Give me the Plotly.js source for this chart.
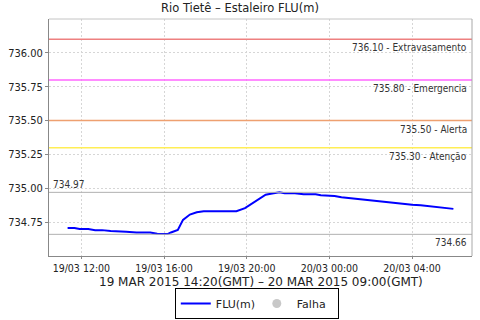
<!DOCTYPE html>
<html>
<head>
<meta charset="utf-8">
<script src="https://cdn.plot.ly/plotly-3.0.1.min.js"></script>
<style>html,body{margin:0;padding:0;background:#fff;}#chart{width:480px;height:320px;}</style>
</head>
<body>
<div id="chart"></div>
<script>
// Time of each reading (local) and level FLU(m)
var times = [
  '2015-03-19 11:20','2015-03-19 11:40','2015-03-19 11:55','2015-03-19 12:20','2015-03-19 12:40',
  '2015-03-19 13:00','2015-03-19 13:25','2015-03-19 13:45','2015-03-19 14:10','2015-03-19 14:40',
  '2015-03-19 15:00','2015-03-19 15:20','2015-03-19 15:40','2015-03-19 16:00','2015-03-19 16:10',
  '2015-03-19 16:20','2015-03-19 16:40','2015-03-19 16:55','2015-03-19 17:15','2015-03-19 17:35',
  '2015-03-19 17:55','2015-03-19 18:30','2015-03-19 19:00','2015-03-19 19:30','2015-03-19 19:55',
  '2015-03-19 20:20','2015-03-19 20:40','2015-03-19 20:55','2015-03-19 21:10','2015-03-19 21:35',
  '2015-03-19 21:50','2015-03-19 22:20','2015-03-19 22:45','2015-03-19 23:20','2015-03-19 23:35',
  '2015-03-20 00:05','2015-03-20 00:15','2015-03-20 00:35','2015-03-20 01:10','2015-03-20 01:40',
  '2015-03-20 02:10','2015-03-20 02:40','2015-03-20 03:00','2015-03-20 03:30','2015-03-20 04:00',
  '2015-03-20 04:25','2015-03-20 04:55','2015-03-20 05:20','2015-03-20 06:00'
];
var levels = [
  734.706,734.706,734.699,734.699,734.691,
  734.691,734.684,734.684,734.679,734.674,
  734.674,734.674,734.664,734.660,734.662,
  734.674,734.693,734.767,734.806,734.823,
  734.831,734.831,734.831,734.831,734.853,
  734.894,734.931,734.953,734.960,734.970,
  734.963,734.963,734.956,734.956,734.948,
  734.948,734.943,734.934,734.924,734.916,
  734.909,734.899,734.894,734.887,734.879,
  734.875,734.868,734.860,734.848
];
var thresholdValues = [736.10, 735.80, 735.50, 735.30];
var thresholdNames = ['Extravasamento', 'Emergencia', 'Alerta', 'Atenção'];
var thresholdColors = ['#ee8080', '#ff66ff', '#eea070', '#ffee55'];
var xRange = ['2015-03-19 10:26', '2015-03-20 06:54'];
var yRange = [734.5, 736.25];
var xTitle = '19 MAR 2015 14:20(GMT) – 20 MAR 2015 09:00(GMT)';

var maxV = Math.max.apply(null, levels);
var minV = Math.min.apply(null, levels);

var shapes = [];
var annotations = [];
var lblFont = {family: 'DejaVu Sans Condensed, DejaVu Sans, sans-serif', size: 10, color: '#333'};
thresholdValues.forEach(function (v, i) {
  shapes.push({type: 'line', xref: 'paper', yref: 'y', x0: 0, x1: 1, y0: v, y1: v,
    line: {color: thresholdColors[i], width: 1.5}});
  annotations.push({xref: 'paper', yref: 'y', x: 1, y: v, xanchor: 'right', yanchor: 'top',
    xshift: -3, yshift: -1, showarrow: false, font: lblFont,
    text: v.toFixed(2) + ' - ' + thresholdNames[i]});
});
shapes.push({type: 'line', xref: 'paper', yref: 'y', x0: 0, x1: 1, y0: 734.97, y1: 734.97,
  line: {color: '#b0b0b0', width: 1}});
shapes.push({type: 'line', xref: 'paper', yref: 'y', x0: 0, x1: 1, y0: 734.66, y1: 734.66,
  line: {color: '#b0b0b0', width: 1}});
annotations.push({xref: 'paper', yref: 'y', x: 0, y: 734.97, xanchor: 'left', yanchor: 'bottom',
  xshift: 2, yshift: 0, showarrow: false, font: lblFont, text: maxV.toFixed(2)});
annotations.push({xref: 'paper', yref: 'y', x: 1, y: 734.66, xanchor: 'right', yanchor: 'top',
  xshift: -3, yshift: -1, showarrow: false, font: lblFont, text: minV.toFixed(2)});
// x axis title, fixed under the tick labels
annotations.push({xref: 'paper', yref: 'paper', x: 0.5, y: 0, xanchor: 'center', yanchor: 'middle',
  yshift: -26, showarrow: false, text: xTitle,
  font: {family: 'DejaVu Sans, sans-serif', size: 12, color: '#222'}});
// top/right frame
shapes.push({type: 'line', xref: 'paper', yref: 'paper', x0: 0, x1: 1, y0: 1, y1: 1,
  line: {color: '#c4c4c4', width: 1}});
shapes.push({type: 'line', xref: 'paper', yref: 'paper', x0: 1, x1: 1, y0: 0, y1: 1,
  line: {color: '#a8a8a8', width: 1}});

var traces = [
  {x: times, y: levels, type: 'scatter', mode: 'lines', name: 'FLU(m)',
   line: {color: '#0000ff', width: 2}},
  {x: [null], y: [null], type: 'scatter', mode: 'markers', name: 'Falha',
   marker: {color: '#c8c8c8', size: 9, symbol: 'circle'}}
];

var tickFont = {family: 'DejaVu Sans Condensed, DejaVu Sans, sans-serif', size: 11, color: '#222'};
var xTickFont = {family: 'DejaVu Sans Condensed, DejaVu Sans, sans-serif', size: 10.5, color: '#222'};
var layout = {
  width: 480, height: 320,
  margin: {l: 49, r: 8, t: 19, b: 64, autoexpand: false},
  paper_bgcolor: '#fff', plot_bgcolor: '#fff',
  title: {text: 'Rio Tietê – Estaleiro FLU(m)', x: 0.5, xanchor: 'center', y: 0.975, yanchor: 'middle',
    font: {family: 'DejaVu Sans, sans-serif', size: 11.5, color: '#222'}},
  xaxis: {type: 'date', range: xRange, tick0: '2015-03-19 00:00', dtick: 4 * 3600 * 1000,
    automargin: false,
    tickformat: '%d/%m %H:%M', tickfont: xTickFont, showline: true, linecolor: '#888', linewidth: 1,
    ticks: 'outside', ticklen: 2, tickcolor: '#888', showgrid: true, gridcolor: '#d6d6d6',
    griddash: '2px,2px', zeroline: false},
  yaxis: {range: yRange, tickvals: [734.75, 735.00, 735.25, 735.50, 735.75, 736.00],
    automargin: false,
    tickformat: '.2f', tickfont: tickFont, showline: true, linecolor: '#888', linewidth: 1,
    ticks: 'outside', ticklen: 3, tickcolor: '#888', showgrid: true, gridcolor: '#d6d6d6',
    griddash: '2px,2px', zeroline: false},
  shapes: shapes,
  annotations: annotations,
  showlegend: true,
  legend: {orientation: 'h', xref: 'container', yref: 'container', x: 0.535, xanchor: 'center',
    y: 0.003, yanchor: 'bottom', bordercolor: '#000', borderwidth: 1, bgcolor: '#fff',
    itemwidth: 30, entrywidth: 36, tracegroupgap: 0,
    font: {family: 'DejaVu Sans, sans-serif', size: 11, color: '#222'}}
};

Plotly.newPlot('chart', traces, layout, {staticPlot: true, displayModeBar: false});
</script>
</body>
</html>
